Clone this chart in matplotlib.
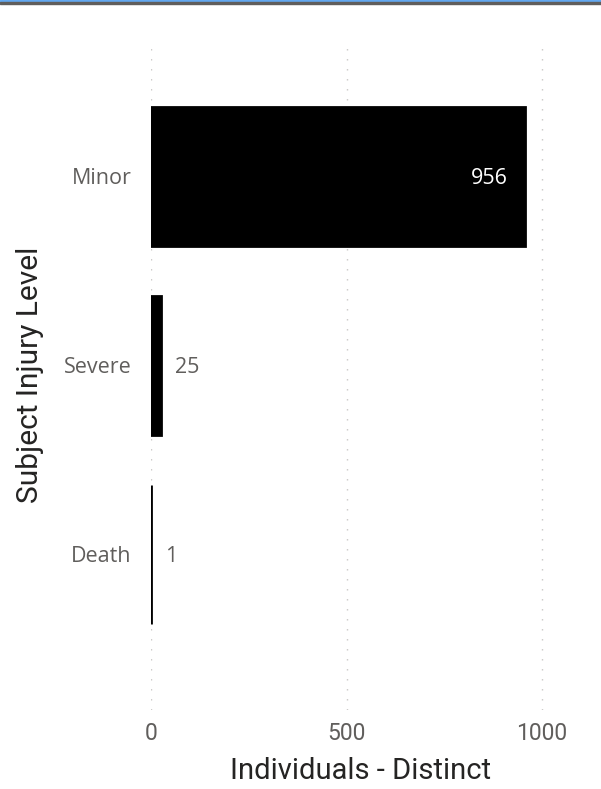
import matplotlib.pyplot as plt
from matplotlib.patches import Rectangle

categories = ['Minor', 'Severe', 'Death']
values = [956, 25, 1]
xticks = [0, 500, 1000]

label_font = 'Open Sans'
title_font = 'Roboto'
gray = '#605E5C'
dark = '#252423'

fig = plt.figure(figsize=(6.01, 7.89), dpi=100)
ax = fig.add_axes([151 / 601, 1 - 710 / 789, 420 / 601, 670 / 789])

pos = list(range(len(categories)))
ax.barh(pos, values, height=0.74, color='black', edgecolor='black', linewidth=2.0, zorder=3)

# value labels: inside for the big bar, outside for small ones
for p, v in zip(pos, values):
    if v > 500:
        ax.annotate(str(v), (v, p), xytext=(-12, -1.5), textcoords='offset points',
                    ha='right', va='center', color='white', fontsize=15.5,
                    family=label_font, zorder=4)
    else:
        ax.annotate(str(v), (v, p), xytext=(10, -1.5), textcoords='offset points',
                    ha='left', va='center', color=gray, fontsize=15.5,
                    family=label_font, zorder=4)

ax.set_xlim(0, 1074)
ax.set_ylim(2.823, -0.722)
ax.set_yticks(pos)
ax.set_yticklabels(categories, family=label_font, fontsize=15.5, color=gray)
for t in ax.get_yticklabels():
    t.set_verticalalignment('center_baseline')
ax.set_xticks(xticks)
ax.set_xticklabels([str(t) for t in xticks], family=title_font, fontsize=16.5, color=gray)
ax.tick_params(axis='y', length=0, pad=14)
ax.tick_params(axis='x', length=0, pad=9)

ax.grid(axis='x', color='#C8C6C4', linewidth=1.0, linestyle=(0, (1, 6.2)), zorder=0)
ax.set_axisbelow(True)
for s in ax.spines.values():
    s.set_visible(False)

ax.set_xlabel('Individuals - Distinct', family=title_font, fontsize=21, color=dark, labelpad=8)
ax.set_ylabel('Subject Injury Level', family=title_font, fontsize=21.5, color=dark, labelpad=14)

# header strip at the top
fig.patches.append(Rectangle((0, 1 - 2.3 / 789), 1, 2.3 / 789, transform=fig.transFigure,
                             color='#62A8F0', zorder=5))
fig.patches.append(Rectangle((0, 1 - 4.3 / 789), 1, 2.0 / 789, transform=fig.transFigure,
                             color='#605E5C', zorder=5))

fig.savefig('out.png', dpi=100)
